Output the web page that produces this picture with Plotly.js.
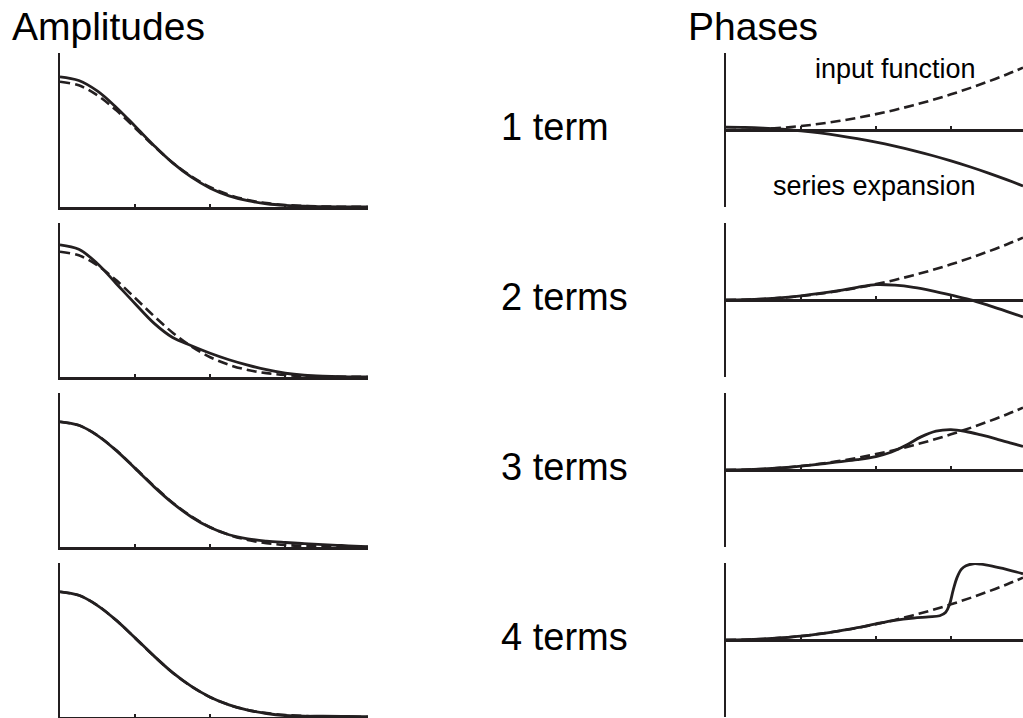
<!DOCTYPE html>
<html>
<head>
<meta charset="utf-8">
<script src="https://cdn.plot.ly/plotly-3.0.1.min.js"></script>
<style>
html,body{margin:0;padding:0;background:#fff;overflow:hidden;}
#chart{width:1023px;height:718px;}
</style>
</head>
<body>
<div id="chart"></div>
<script>
// ---- data ----
const rowLabels = ["1 term", "2 terms", "3 terms", "4 terms"];
const panelTitles = ["Amplitudes", "Phases"];
const curveLabels = ["input function", "series expansion"];
const tickValues = [1, 2, 3];

// amplitudes (x in axis units, y relative to input peak)
const ampX = [0, 0.25, 0.5, 0.75, 1.0, 1.25, 1.5, 1.75, 2.0, 2.25, 2.5, 2.75, 3.0, 3.25, 3.5, 3.75, 4.0, 4.1];
const ampInput = [1.0, 0.972, 0.891, 0.772, 0.631, 0.487, 0.354, 0.244, 0.158, 0.097, 0.056, 0.031, 0.016, 0.008, 0.004, 0.0015, 0.0006, 0.0004];
const ampTerms1 = [1.04, 1.01, 0.925, 0.795, 0.645, 0.492, 0.352, 0.238, 0.150, 0.089, 0.050, 0.026, 0.013, 0.006, 0.003, 0.001, 0.0004, 0.0003];
const ampTerms2 = [1.056, 1.02, 0.905, 0.745, 0.585, 0.43, 0.315, 0.25, 0.19, 0.138, 0.095, 0.058, 0.03, 0.014, 0.006, 0.002, 0.0006, 0.0004];
const ampTerms3 = [1.0, 0.972, 0.89, 0.77, 0.628, 0.482, 0.35, 0.24, 0.155, 0.098, 0.065, 0.047, 0.036, 0.027, 0.019, 0.012, 0.005, 0.003];
const ampTerms4 = [1.0, 0.972, 0.89, 0.772, 0.632, 0.488, 0.354, 0.244, 0.158, 0.097, 0.055, 0.028, 0.012, 0.006, 0.006, 0.005, 0.003, 0.002];

// phases
const phaseX = [0, 0.25, 0.5, 0.75, 1.0, 1.25, 1.5, 1.75, 2.0, 2.25, 2.5, 2.75, 3.0, 3.25, 3.5, 3.75, 3.96];
const phaseInput = [0, 0.006, 0.026, 0.058, 0.103, 0.161, 0.232, 0.315, 0.412, 0.521, 0.644, 0.779, 0.927, 1.088, 1.262, 1.448, 1.62];
const phaseTerms1 = [0.075, 0.069, 0.051, 0.02, -0.023, -0.077, -0.144, -0.224, -0.315, -0.419, -0.534, -0.662, -0.802, -0.955, -1.119, -1.296, -1.454];
const phaseTerms2 = [0, 0.006, 0.026, 0.06, 0.107, 0.17, 0.245, 0.33, 0.40, 0.385, 0.33, 0.24, 0.13, 0.01, -0.14, -0.30, -0.44];
const phaseTerms3X = [0, 0.25, 0.5, 0.75, 1.0, 1.25, 1.5, 1.75, 2.0, 2.2, 2.4, 2.6, 2.8, 3.0, 3.2, 3.4, 3.6, 3.8, 3.96];
const phaseTerms3 = [0, 0.006, 0.026, 0.058, 0.10, 0.15, 0.21, 0.27, 0.35, 0.46, 0.64, 0.86, 1.01, 1.05, 1.0, 0.91, 0.81, 0.70, 0.61];
const phaseTerms4X = [0, 0.25, 0.5, 0.75, 1.0, 1.25, 1.5, 1.75, 2.0, 2.25, 2.5, 2.7, 2.85, 2.93, 2.98, 3.03, 3.08, 3.14, 3.2, 3.3, 3.4, 3.55, 3.75, 3.96];
const phaseTerms4 = [0, 0.006, 0.026, 0.058, 0.10, 0.16, 0.23, 0.32, 0.42, 0.51, 0.57, 0.60, 0.63, 0.72, 0.92, 1.30, 1.62, 1.84, 1.93, 1.98, 1.97, 1.92, 1.83, 1.72];

// ---- drawing ----
const W = 1023, H = 718;
const INK = "#231f20";
const FONT = "Liberation Sans, Arial, Helvetica, sans-serif";
const rowsPx = [[53, 207], [223, 377], [393, 547], [563, 717]];
const ampTerms = [ampTerms1, ampTerms2, ampTerms3, ampTerms4];
const phaseTermsX = [phaseX, phaseX, phaseTerms3X, phaseTerms4X];
const phaseTerms = [phaseTerms1, phaseTerms2, phaseTerms3, phaseTerms4];

const traces = [];
const layout = {
  width: W, height: H,
  margin: {l: 0, r: 0, t: 0, b: 0},
  paper_bgcolor: "#fff", plot_bgcolor: "rgba(0,0,0,0)",
  showlegend: false,
  font: {family: FONT, color: INK},
  annotations: []
};

function solid(x, y, xa, ya) {
  return {x: x, y: y, xaxis: xa, yaxis: ya, type: "scatter", mode: "lines",
    line: {color: INK, width: 2.8, shape: "spline", smoothing: 1}, hoverinfo: "skip", cliponaxis: true};
}
function dashed(x, y, xa, ya) {
  return {x: x, y: y, xaxis: xa, yaxis: ya, type: "scatter", mode: "lines",
    line: {color: INK, width: 2.6, dash: "10px,5px", shape: "spline", smoothing: 1}, hoverinfo: "skip", cliponaxis: true};
}

rowsPx.forEach((r, i) => {
  const dom = [1 - r[1] / H, 1 - r[0] / H];
  const a = i + 1, p = i + 5;
  const axLine = {showline: true, linecolor: INK, linewidth: 2.5, showgrid: false, zeroline: false,
    showticklabels: false, fixedrange: true};
  // amplitude panel
  layout["xaxis" + a] = Object.assign({}, axLine, {domain: [60 / W, 368 / W], range: [0, 4.1],
    anchor: "y" + a, ticks: "inside", ticklen: 3, tickwidth: 2, tickcolor: INK, tickvals: tickValues});
  layout["yaxis" + a] = Object.assign({}, axLine, {domain: dom, range: [0, 1.23], anchor: "x" + a, ticks: ""});
  // phase panel
  layout["xaxis" + p] = Object.assign({}, axLine, {domain: [726 / W, 1], range: [0, 3.96],
    anchor: "free", position: (dom[0] + dom[1]) / 2, ticks: "inside", ticklen: 3, tickwidth: 2, tickcolor: INK, tickvals: tickValues});
  layout["yaxis" + p] = Object.assign({}, axLine, {domain: dom, range: [-2, 2], anchor: "x" + p, ticks: ""});

  traces.push(dashed(ampX, ampInput, "x" + a, "y" + a));
  traces.push(solid(ampX, ampTerms[i], "x" + a, "y" + a));
  traces.push(dashed(phaseX, phaseInput, "x" + p, "y" + p));
  traces.push(solid(phaseTermsX[i], phaseTerms[i], "x" + p, "y" + p));

  layout.annotations.push({text: rowLabels[i], xref: "paper", yref: "paper",
    x: 499 / W, y: 1 - ((r[0] + r[1]) / 2 - 3) / H, xanchor: "left", yanchor: "middle",
    showarrow: false, font: {size: 38, family: FONT, color: "#000"}});
});

layout.annotations.push({text: panelTitles[0], xref: "paper", yref: "paper", x: 10 / W, y: 1 - 26 / H,
  xanchor: "left", yanchor: "middle", showarrow: false, font: {size: 39, family: FONT, color: "#000"}});
layout.annotations.push({text: panelTitles[1], xref: "paper", yref: "paper", x: 686 / W, y: 1 - 26 / H,
  xanchor: "left", yanchor: "middle", showarrow: false, font: {size: 39, family: FONT, color: "#000"}});
layout.annotations.push({text: curveLabels[0], xref: "paper", yref: "paper", x: 978 / W, y: 1 - 69 / H,
  xanchor: "right", yanchor: "middle", showarrow: false, font: {size: 27, family: FONT, color: "#000"}});
layout.annotations.push({text: curveLabels[1], xref: "paper", yref: "paper", x: 978 / W, y: 1 - 186 / H,
  xanchor: "right", yanchor: "middle", showarrow: false, font: {size: 27, family: FONT, color: "#000"}});

Plotly.newPlot("chart", traces, layout, {staticPlot: true, displayModeBar: false});
</script>
</body>
</html>
